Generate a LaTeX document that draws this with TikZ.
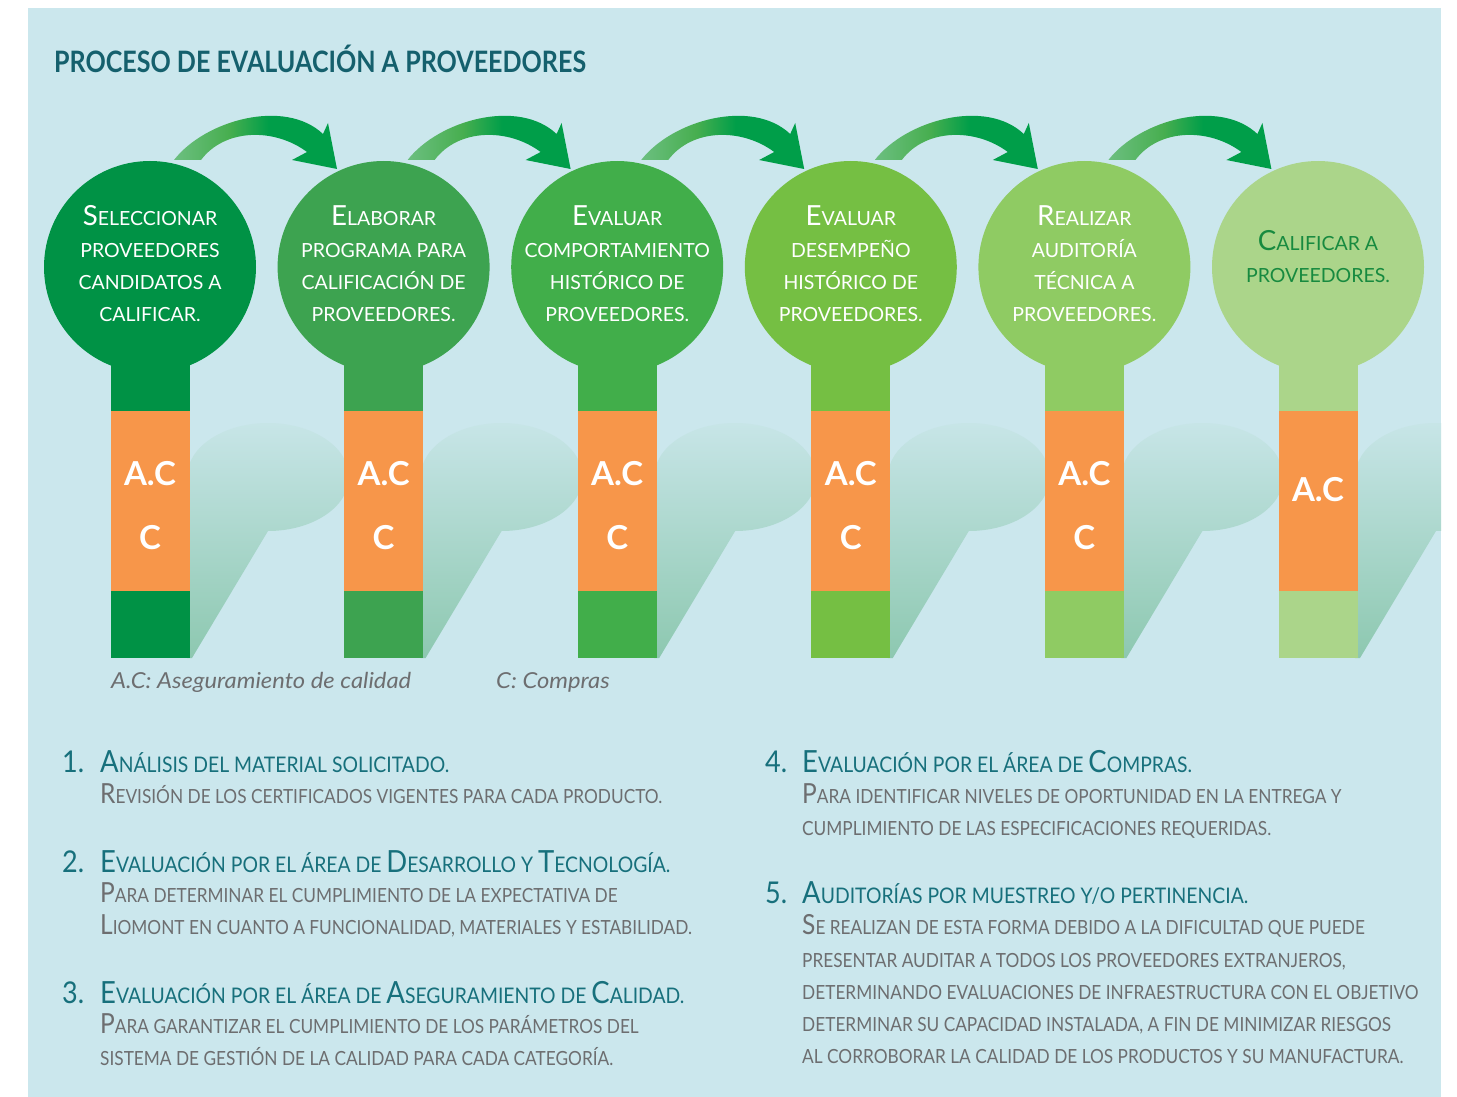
\documentclass[tikz,border=0pt]{standalone}
\usepackage{fontspec}
\setmainfont{Lato}
\newfontfamily\titlefont[FakeStretch=0.85]{Lato}
\newfontfamily\hdfont[FakeStretch=0.9]{Lato}
\newfontfamily\dsfont[FakeStretch=0.885]{Lato}
\newfontfamily\lgfont[FakeStretch=1.08]{Lato}
\usetikzlibrary{calc}
\definecolor{panel}{HTML}{CBE7ED}
\definecolor{gA}{HTML}{009245}
\definecolor{gB}{HTML}{3DA350}
\definecolor{gC}{HTML}{41AE4A}
\definecolor{gD}{HTML}{75BF43}
\definecolor{gE}{HTML}{8FCB63}
\definecolor{gF}{HTML}{ABD58A}
\definecolor{orng}{HTML}{F7964A}
\definecolor{hdg}{HTML}{17707C}
\definecolor{ttl}{HTML}{15606D}
\definecolor{gry}{HTML}{6D6E70}
\definecolor{dkg}{HTML}{178A3F}
\definecolor{arL}{HTML}{6CBF80}
\definecolor{arM}{HTML}{47AE4F}
\definecolor{arR}{HTML}{009E49}
\definecolor{shT}{HTML}{C7E5E7}
\definecolor{shB}{HTML}{8DC8B0}
\pgfdeclarehorizontalshading{arrowsh}{100bp}{color(0bp)=(arL); color(25bp)=(arL); color(42bp)=(arM); color(54bp)=(arR); color(100bp)=(arR)}
\pgfdeclareverticalshading{shadsh}{100bp}{color(0bp)=(shB); color(25bp)=(shB); color(75bp)=(shT); color(100bp)=(shT)}
\newcommand\Ini[1]{\scalebox{1.42}{#1}}
\begin{document}
\begin{tikzpicture}[x=1pt,y=-1pt,
  bulb/.style={circle, minimum size=212, inner sep=0, draw=none},
  bandbox/.style={fill=orng, minimum width=79, minimum height=180, inner sep=0, draw=none},
  stemtxt/.style={text=white, font=\bfseries\fontsize{33}{33}\selectfont, inner sep=0},
  ctext/.style={align=center, font=\fontsize{19.5}{32}\selectfont, text=white, inner sep=0},
  hd/.style={anchor=base west, text=hdg, font=\hdfont\fontsize{21.5}{24}\selectfont, inner sep=0},
  ds/.style={anchor=base west, text=gry, font=\dsfont\fontsize{19.5}{22}\selectfont, inner sep=0},
  num/.style={anchor=base west, text=hdg, font=\hdfont\fontsize{30}{30}\selectfont, inner sep=0},
  legend/.style={anchor=base west, text=gry, font=\lgfont\itshape\fontsize{22}{22}\selectfont, inner sep=0},
  arrowshape/.style={shading=arrowsh}]
\useasboundingbox (0,0) rectangle (1457,1097);
\fill[white] (0,0) rectangle (1457,1097);
\fill[panel] (28,8) rectangle (1441,1097);
% shadows
\begin{scope}
\clip (28,8) rectangle (1441,1097);
\foreach \cx in {150,383.6,617.2,850.8,1084.4,1318}
  \shade[shading=shadsh] (\cx+37,477) arc[start angle=180,end angle=450,x radius=81,y radius=54] -- (\cx+42,658) -- (\cx+37,658) -- cycle;
\end{scope}
% title
\node[anchor=base west, text=ttl, font=\titlefont\bfseries\fontsize{29.5}{29.5}\selectfont, inner sep=0] (title) at (54,73) {PROCESO DE EVALUACIÓN A PROVEEDORES};
% lollipops
\foreach \i/\cx/\col in {1/150/gA, 2/383.6/gB, 3/617.2/gC, 4/850.8/gD, 5/1084.4/gE, 6/1318/gF} {
  \fill[\col] (\cx-39.5,330) rectangle (\cx+39.5,658);
  \node[bulb, fill=\col] (c\i) at (\cx,267) {};
  \node[bandbox] (b\i) at (\cx,501) {};
}
\foreach \i in {1,...,5} {
  \node[stemtxt] (ac\i) at ($(b\i.center)+(0,-27)$) {A.C};
  \node[stemtxt] (cc\i) at ($(b\i.center)+(0,37)$) {C};
}
\node[stemtxt] (ac6) at ($(b6.center)+(0,-11)$) {A.C};
% circle texts
\node[ctext] (t1) at ($(c1.center)+(0,-3)$) {\Ini{S}ELECCIONAR\\PROVEEDORES\\CANDIDATOS A\\CALIFICAR.};
\node[ctext] (t2) at ($(c2.center)+(0,-3)$) {\Ini{E}LABORAR\\PROGRAMA PARA\\CALIFICACIÓN DE\\PROVEEDORES.};
\node[ctext] (t3) at ($(c3.center)+(0,-3)$) {\Ini{E}VALUAR\\COMPORTAMIENTO\\HISTÓRICO DE\\PROVEEDORES.};
\node[ctext] (t4) at ($(c4.center)+(0,-3)$) {\Ini{E}VALUAR\\DESEMPEÑO\\HISTÓRICO DE\\PROVEEDORES.};
\node[ctext] (t5) at ($(c5.center)+(0,-3)$) {\Ini{R}EALIZAR\\AUDITORÍA\\TÉCNICA A\\PROVEEDORES.};
\node[ctext, text=dkg] (t6) at ($(c6.center)+(0,-10)$) {\Ini{C}ALIFICAR A\\PROVEEDORES.};
% arrows between circles
\foreach \i in {1,...,5}
  \shade[arrowshape, shift={(c\i.center)}] (24,-107) .. controls (55,-147) and (135,-169) .. (173,-133) -- (178,-144) -- (187,-98) -- (142,-107) -- (157,-115) .. controls (125,-139) and (75,-139) .. (51,-107) -- cycle;
% legend
\node[legend] (lg1) at (111,688) {A.C: Aseguramiento de calidad};
\node[legend] (lg2) at (496,688) {C: Compras};
% left column
\node[num] (n1) at (62,772) {1.};
\node[hd] (h1) at (100,772) {\Ini{A}NÁLISIS DEL MATERIAL SOLICITADO.};
\node[ds] (d1a) at (100,803) {\Ini{R}EVISIÓN DE LOS CERTIFICADOS VIGENTES PARA CADA PRODUCTO.};
\node[num] (n2) at (62,872) {2.};
\node[hd] (h2) at (100,872) {\Ini{E}VALUACIÓN POR EL ÁREA DE \Ini{D}ESARROLLO Y \Ini{T}ECNOLOGÍA.};
\node[ds] (d2a) at (100,902) {\Ini{P}ARA DETERMINAR EL CUMPLIMIENTO DE LA EXPECTATIVA DE};
\node[ds] (d2b) at (100,934) {\Ini{L}IOMONT EN CUANTO A FUNCIONALIDAD, MATERIALES Y ESTABILIDAD.};
\node[num] (n3) at (62,1003) {3.};
\node[hd] (h3) at (100,1003) {\Ini{E}VALUACIÓN POR EL ÁREA DE \Ini{A}SEGURAMIENTO DE \Ini{C}ALIDAD.};
\node[ds] (d3a) at (100,1033) {\Ini{P}ARA GARANTIZAR EL CUMPLIMIENTO DE LOS PARÁMETROS DEL};
\node[ds] (d3b) at (100,1065) {SISTEMA DE GESTIÓN DE LA CALIDAD PARA CADA CATEGORÍA.};
% right column
\node[num] (n4) at (765,772) {4.};
\node[hd] (h4) at (802,772) {\Ini{E}VALUACIÓN POR EL ÁREA DE \Ini{C}OMPRAS.};
\node[ds] (d4a) at (802,803) {\Ini{P}ARA IDENTIFICAR NIVELES DE OPORTUNIDAD EN LA ENTREGA Y};
\node[ds] (d4b) at (802,835) {CUMPLIMIENTO DE LAS ESPECIFICACIONES REQUERIDAS.};
\node[num] (n5) at (765,903) {5.};
\node[hd] (h5) at (802,903) {\Ini{A}UDITORÍAS POR MUESTREO Y/O PERTINENCIA.};
\node[ds] (d5a) at (802,934) {\Ini{S}E REALIZAN DE ESTA FORMA DEBIDO A LA DIFICULTAD QUE PUEDE};
\node[ds] (d5b) at (802,967) {PRESENTAR AUDITAR A TODOS LOS PROVEEDORES EXTRANJEROS,};
\node[ds] (d5c) at (802,999) {DETERMINANDO EVALUACIONES DE INFRAESTRUCTURA CON EL OBJETIVO};
\node[ds] (d5d) at (802,1031) {DETERMINAR SU CAPACIDAD INSTALADA, A FIN DE MINIMIZAR RIESGOS};
\node[ds] (d5e) at (802,1063) {AL CORROBORAR LA CALIDAD DE LOS PRODUCTOS Y SU MANUFACTURA.};
\end{tikzpicture}
\end{document}
